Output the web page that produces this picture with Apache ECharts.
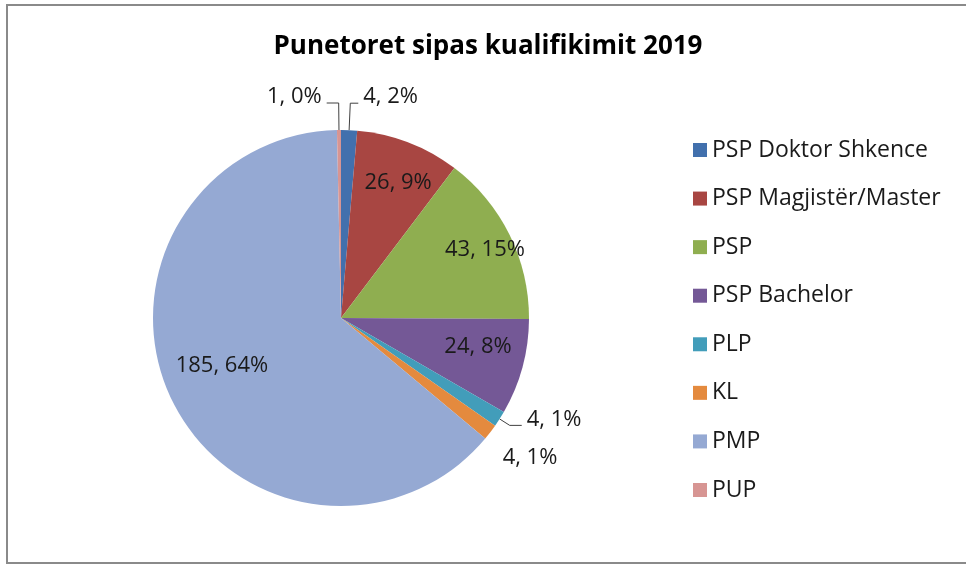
<!DOCTYPE html>
<html>
<head>
<meta charset="utf-8">
<script src="https://cdn.jsdelivr.net/npm/echarts@6/dist/echarts.min.js"></script>
<style>
  html, body { margin: 0; padding: 0; background: #ffffff; }
  #chart { width: 966px; height: 565px; }
</style>
</head>
<body>
<div id="chart"></div>
<script>
// Qualification groups and head counts for 2019
const categories = ['PSP Doktor Shkence', 'PSP Magjistër/Master', 'PSP', 'PSP Bachelor', 'PLP', 'KL', 'PMP', 'PUP'];
const workers = [4, 26, 43, 24, 4, 4, 185, 1];
const shareLabels = ['2%', '9%', '15%', '8%', '1%', '1%', '64%', '0%'];

// Slice colours
const colors = ['#4270AD', '#A84642', '#8FAE50', '#745896', '#429DBA', '#E48A3E', '#95A9D3', '#D79593'];

// Pie geometry
const CX = 341, CY = 318, R = 188;
const FONT = 'Open Sans';

// Label distance from centre as a fraction of the radius (null: outside label with leader line)
const labelRadius = [null, 0.78, 0.847, 0.744, null, 1.251, 0.683, null];
// Small angular nudge of those labels, degrees clockwise
const labelNudge = [0, 1.9, 1.0, -3.5, 0, -0.9, 3.7, 0];
// Leader line lengths for the outside labels [radial, horizontal]
const leader = { 0: [27, 8], 4: [12, 12], 7: [27, 12] };

const pieData = categories.map(function (name, i) {
  const item = { name: name, value: workers[i], itemStyle: { color: colors[i] } };
  if (labelRadius[i] == null) {
    item.label = { position: 'outside' };
    item.labelLine = { show: true, length: leader[i][0], length2: leader[i][1] };
  } else {
    item.label = { position: 'inside' };
    item.labelLine = { show: false };
  }
  return item;
});

const chart = echarts.init(document.getElementById('chart'), null, { renderer: 'canvas' });

chart.setOption({
  backgroundColor: '#ffffff',
  animation: false,
  graphic: [
    {
      type: 'rect',
      shape: { x: 7, y: 5, width: 975, height: 558 },
      style: { fill: 'none', stroke: '#8a8a8a', lineWidth: 2 },
      silent: true
    },
    {
      type: 'text',
      x: 488, y: 47,
      style: {
        text: 'Punetoret sipas kualifikimit 2019',
        font: 'bold 26px "' + FONT + '"',
        fill: '#000000',
        textAlign: 'center',
        textVerticalAlign: 'middle'
      },
      silent: true
    }
  ],
  legend: {
    orient: 'vertical',
    left: 688,
    top: 133,
    icon: 'rect',
    itemWidth: 14,
    itemHeight: 14,
    itemGap: 24.57,
    data: categories,
    textStyle: {
      fontFamily: FONT,
      fontSize: 23,
      color: '#1a1a1a',
      lineHeight: 24
    }
  },
  series: [{
    type: 'pie',
    center: [CX, CY],
    radius: [0, R],
    startAngle: 90,
    clockwise: true,
    avoidLabelOverlap: false,
    itemStyle: { borderWidth: 0 },
    label: {
      show: true,
      fontFamily: FONT,
      fontSize: 22,
      color: '#1a1a1a',
      distanceToLabelLine: 5,
      formatter: function (p) {
        return p.value + ', ' + shareLabels[p.dataIndex];
      }
    },
    labelLine: {
      lineStyle: { color: '#404040', width: 1 }
    },
    labelLayout: function (p) {
      const f = labelRadius[p.dataIndex];
      // outside labels sit a little above the end of their leader line
      if (f == null) return { dy: -6 };
      // inside labels sit on the slice bisector; move them along a nudged bisector
      const lx = p.labelRect.x + p.labelRect.width / 2;
      const ly = p.labelRect.y + p.labelRect.height / 2;
      const a = Math.atan2(lx - CX, CY - ly) + labelNudge[p.dataIndex] * Math.PI / 180;
      const d = f * R;
      return { x: CX + d * Math.sin(a), y: CY - d * Math.cos(a) };
    },
    emphasis: { disabled: true },
    data: pieData
  }]
});
</script>
</body>
</html>
